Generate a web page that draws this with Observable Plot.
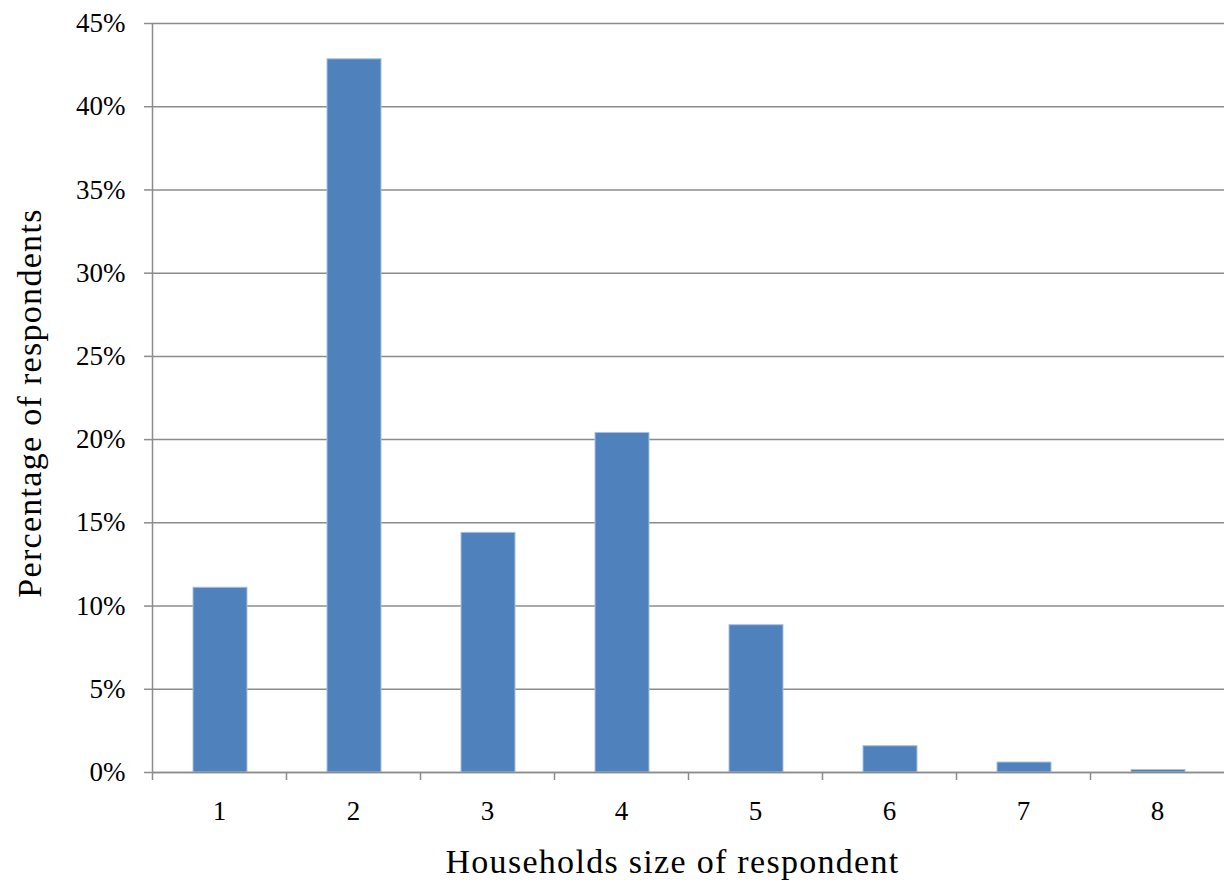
<!DOCTYPE html>
<html><head><meta charset="utf-8">
<script src="https://cdn.jsdelivr.net/npm/d3@7"></script>
<script src="https://cdn.jsdelivr.net/npm/@observablehq/plot@0.6"></script>
<style>body{margin:0;background:#fff}</style>
</head><body><div id="chart"></div><script>
const sizes = ["1","2","3","4","5","6","7","8"];
const percents = [11.1, 42.85, 14.4, 20.4, 8.85, 1.58, 0.6, 0.15];
const yTicks = [0,5,10,15,20,25,30,35,40,45];
const xTitle = "Households size of respondent";
const yTitle = "Percentage of respondents";

const data = sizes.map((s,i)=>({size:s, pct:percents[i]}));
const W=1225, H=886, ml=152, mr=1, mt=23, mb=114;
const step = (W-ml-mr)/sizes.length;
const grid = "#8c8c8c";
const font = "'Liberation Serif', 'Times New Roman', serif";

const chart = Plot.plot({
  width:W, height:H, marginLeft:ml, marginRight:mr, marginTop:mt, marginBottom:mb,
  style:{fontFamily:font, background:"#fff", color:"#000"},
  x:{domain:sizes, paddingInner:0.6, paddingOuter:0.3, label:null},
  y:{domain:[0,45], label:null},
  marks:[
    Plot.gridY(yTicks, {stroke:grid, strokeOpacity:1, strokeWidth:1.5}),
    Plot.axisY(yTicks, {tickSize:8, tickPadding:19, tickFormat:d=>d+"%", fontSize:27, stroke:grid, strokeWidth:1.5, fill:"#000", label:null}),
    Plot.ruleX([sizes[0]], {dx:-step/2, stroke:grid, strokeWidth:1.5}),
    Plot.barY(data, {x:"size", y:"pct", fill:"#4F81BD", stroke:"#a9c1e0", strokeWidth:1, dx:1}),
    Plot.ruleY([0], {stroke:grid, strokeWidth:1.5}),
    Plot.axisX({tickSize:0, tickPadding:28, fontSize:27, fill:"#000", label:null}),
    Plot.axisX({text:null, tickSize:8, dx:-step/2, stroke:grid, strokeWidth:1.5, label:null}),
    Plot.text([xTitle], {frameAnchor:"bottom", dx:-16, dy:90, lineAnchor:"middle", textAnchor:"middle", fontSize:34, fill:"#000"}),
    Plot.text([yTitle], {frameAnchor:"left", dx:-122, dy:5, rotate:-90, lineAnchor:"middle", textAnchor:"middle", fontSize:34, fill:"#000"})
  ]
});
chart.querySelectorAll("text").forEach(t=>{ if(t.textContent===xTitle||t.textContent===yTitle) t.setAttribute("letter-spacing","1.3"); });
document.getElementById("chart").appendChild(chart);
</script></body></html>
